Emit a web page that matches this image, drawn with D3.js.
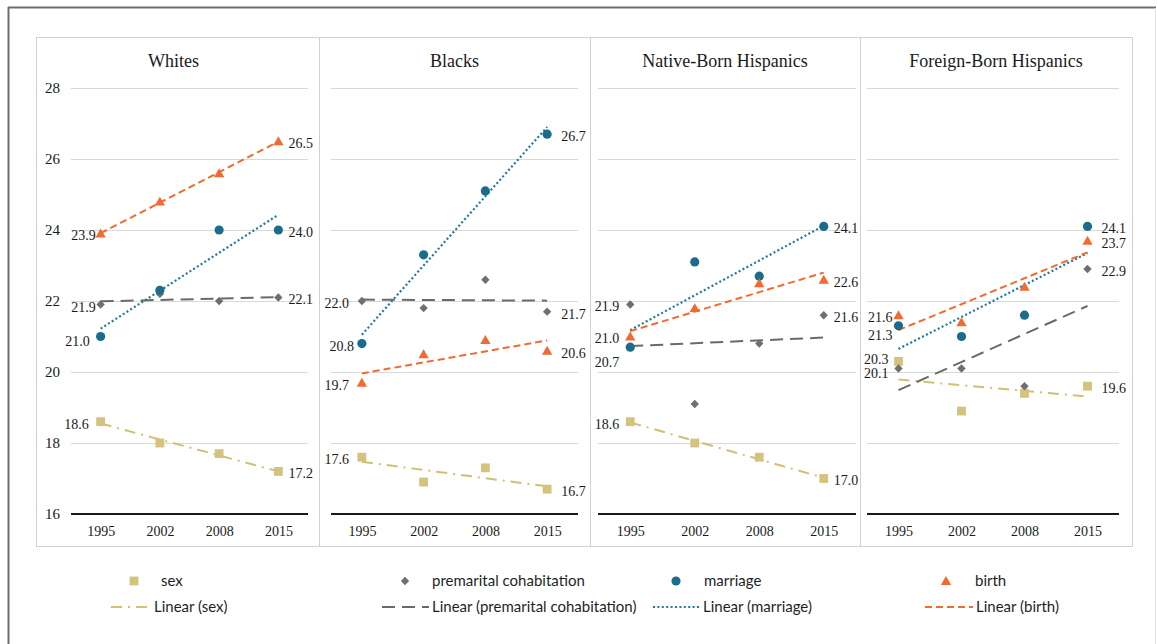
<!DOCTYPE html>
<html>
<head>
<meta charset="utf-8">
<script src="https://cdn.jsdelivr.net/npm/d3@7/dist/d3.min.js"></script>
<style>
  html, body { margin: 0; padding: 0; background: #ffffff; }
  svg { display: block; }
</style>
</head>
<body>
<svg id="chart" width="1157" height="644"></svg>
<script>
// Median age at each life-course event, by group and survey year
const groups = ["Whites", "Blacks", "Native-Born Hispanics", "Foreign-Born Hispanics"];
const years = ["1995", "2002", "2008", "2015"];
const yTicks = [16, 18, 20, 22, 24, 26, 28];

const sexAge      = [[18.6, 18.0, 17.7, 17.2], [17.6, 16.9, 17.3, 16.7], [18.6, 18.0, 17.6, 17.0], [20.3, 18.9, 19.4, 19.6]];
const cohabAge    = [[21.9, 22.2, 22.0, 22.1], [22.0, 21.8, 22.6, 21.7], [21.9, 19.1, 20.8, 21.6], [20.1, 20.1, 19.6, 22.9]];
const marriageAge = [[21.0, 22.3, 24.0, 24.0], [20.8, 23.3, 25.1, 26.7], [20.7, 23.1, 22.7, 24.1], [21.3, 21.0, 21.6, 24.1]];
const birthAge    = [[23.9, 24.8, 25.6, 26.5], [19.7, 20.5, 20.9, 20.6], [21.0, 21.8, 22.5, 22.6], [21.6, 21.4, 22.4, 23.7]];

// Series styling (marker shape, colour, trendline dash)
const series = [
  { key: "sex", name: "sex", values: sexAge, color: "#d3c37c", lineColor: "#d0c070", shape: "square", dash: "11,6,2,6" },
  { key: "cohab", name: "premarital cohabitation", values: cohabAge, color: "#6f6f6f", lineColor: "#6a6a6a", shape: "diamond", dash: "13,7" },
  { key: "marriage", name: "marriage", values: marriageAge, color: "#1b6b8c", lineColor: "#2277a0", shape: "circle", dash: "2,2.4" },
  { key: "birth", name: "birth", values: birthAge, color: "#f26a2e", lineColor: "#f26a2e", shape: "triangle", dash: "7,4" }
];

const SERIF = '"Liberation Serif", "Times New Roman", Times, "DejaVu Serif", serif';
const SANS = 'Lato, "Open Sans", "Liberation Sans", sans-serif';

// Layout
const panelBox = { top: 37, bottom: 546, edges: [36, 319, 590, 860, 1132] };
const plotRanges = [[71, 308], [331, 578], [598, 856], [867, 1119]];
const leftGap = [8, 13, 11, 6];
const rightGap = [10, 14, 10, 14];
// label nudges: "panel-series-side" -> [dx, dy]
const labelNudge = {
  "0-sex-L": [-4, 0], "0-marriage-L": [-3, 3], "0-birth-L": [3, 0], "0-cohab-L": [3, 1],
  "1-marriage-L": [5, 0],
  "2-marriage-L": [0, 13],
  "3-marriage-L": [0, 7], "3-sex-L": [-4, -4], "3-cohab-L": [-4, 3]
};

const svg = d3.select("#chart");
const y = d3.scaleLinear().domain([16, 28]).range([514, 88]);

// Outer frame
svg.append("line").attr("x1", 8).attr("x2", 1156).attr("y1", 7.5).attr("y2", 7.5)
  .attr("stroke", "#6e6e6e").attr("stroke-width", 2);
svg.append("line").attr("x1", 8.5).attr("x2", 8.5).attr("y1", 7).attr("y2", 644)
  .attr("stroke", "#6e6e6e").attr("stroke-width", 2);
svg.append("line").attr("x1", 1155.5).attr("x2", 1155.5).attr("y1", 8).attr("y2", 644)
  .attr("stroke", "#e2e2e2").attr("stroke-width", 1);

// Panel borders
svg.append("rect")
  .attr("x", panelBox.edges[0] + 0.5).attr("y", panelBox.top + 0.5)
  .attr("width", panelBox.edges[4] - panelBox.edges[0]).attr("height", panelBox.bottom - panelBox.top)
  .attr("fill", "none").attr("stroke", "#d0d0d0");
panelBox.edges.slice(1, 4).forEach(e => {
  svg.append("line").attr("x1", e + 0.5).attr("x2", e + 0.5)
    .attr("y1", panelBox.top).attr("y2", panelBox.bottom).attr("stroke", "#d0d0d0");
});

function markerPath(shape) {
  if (shape === "diamond") {
    const r = 4.2;
    return `M0,${-r}L${r},0L0,${r}L${-r},0Z`;
  }
  const sym = { square: d3.symbolSquare, circle: d3.symbolCircle, triangle: d3.symbolTriangle }[shape];
  const size = { square: 78, circle: 66, triangle: 46 }[shape];
  return d3.symbol().type(sym).size(size)();
}

function trend(values) {
  const n = values.length;
  const xs = d3.range(1, n + 1);
  const mx = d3.mean(xs), my = d3.mean(values);
  const slope = d3.sum(xs, (xv, i) => (xv - mx) * (values[i] - my)) / d3.sum(xs, xv => (xv - mx) ** 2);
  return xs.map(xv => my + slope * (xv - mx));
}

groups.forEach((gname, gi) => {
  const [x0, x1] = plotRanges[gi];
  const x = d3.scalePoint().domain(years).range([x0, x1]).padding(0.5);
  const g = svg.append("g");

  // Gridlines
  const grid = g.append("g").attr("transform", `translate(${x0},0)`)
    .call(d3.axisLeft(y).tickValues(yTicks.slice(1)).tickSize(-(x1 - x0)).tickFormat(""));
  grid.select(".domain").remove();
  grid.selectAll(".tick line").attr("stroke", "#d9d9d9").attr("stroke-width", 1);

  // Category axis
  const xa = g.append("g").attr("transform", `translate(0,${y(16)})`)
    .call(d3.axisBottom(x).tickSize(0).tickPadding(12));
  xa.attr("font-family", null).attr("font-size", null);
  xa.select(".domain").attr("stroke", "#1a1a1a").attr("stroke-width", 2)
    .attr("d", `M${x0},0H${x1}`);
  xa.selectAll("text").style("font-family", SERIF).style("font-size", "14px").attr("fill", "#1a1a1a");

  // Value axis labels on the first panel only
  if (gi === 0) {
    const ya = g.append("g").attr("transform", `translate(${x0},0)`)
      .call(d3.axisLeft(y).tickValues(yTicks).tickSize(0).tickPadding(11).tickFormat(d3.format("d")));
    ya.attr("font-family", null).attr("font-size", null);
    ya.select(".domain").remove();
    ya.selectAll("text").style("font-family", SERIF).style("font-size", "15px").attr("fill", "#1a1a1a");
  }

  // Title
  g.append("text")
    .attr("x", (panelBox.edges[gi] + panelBox.edges[gi + 1]) / 2 - (gi === 0 ? 4 : 0))
    .attr("y", 67).attr("text-anchor", "middle")
    .style("font-family", SERIF).style("font-size", "18px").attr("fill", "#1a1a1a")
    .text(gname);

  // Trendlines
  series.forEach(s => {
    const vals = s.values[gi];
    const t = trend(vals);
    g.append("line")
      .attr("x1", x(years[0])).attr("y1", y(t[0]))
      .attr("x2", x(years[years.length - 1])).attr("y2", y(t[t.length - 1]))
      .attr("stroke", s.lineColor).attr("stroke-width", s.key === "marriage" ? 2.2 : 2)
      .attr("stroke-dasharray", s.dash);
  });

  // Markers
  series.forEach(s => {
    g.selectAll(null).data(s.values[gi]).join("path")
      .attr("d", markerPath(s.shape))
      .attr("transform", (d, i) => `translate(${x(years[i])},${y(d) + (s.shape === "triangle" ? 1 : 0)})`)
      .attr("fill", s.color);
  });

  // Value labels at the first and last year
  series.forEach(s => {
    const vals = s.values[gi];
    [["L", 0], ["R", vals.length - 1]].forEach(([side, i]) => {
      const nudge = labelNudge[`${gi}-${s.key}-${side}`] || [0, 0];
      const px = x(years[i]) + (side === "L" ? -leftGap[gi] : rightGap[gi]) + nudge[0];
      g.append("text")
        .attr("x", px).attr("y", y(vals[i]) + 2 + nudge[1])
        .attr("dy", "0.35em")
        .attr("text-anchor", side === "L" ? "end" : "start")
        .style("font-family", SERIF).style("font-size", "14px").attr("fill", "#1a1a1a")
        .text(vals[i].toFixed(1));
    });
  });
});

// Legend
const legend = svg.append("g");
const legendX = [134, 405, 676, 946];
const legendTextX = [161, 432, 704, 975];
const lineSpan = [[111, 151], [382, 429], [653, 700], [925, 973]];
series.forEach((s, i) => {
  legend.append("path").attr("d", markerPath(s.shape))
    .attr("transform", `translate(${legendX[i]},${581 + (s.shape === "triangle" ? 1 : 0)})`)
    .attr("fill", s.color);
  legend.append("text").attr("x", legendTextX[i]).attr("y", 581).attr("dy", "0.35em")
    .style("font-family", SANS).style("font-size", "15px").attr("fill", "#1f1f1f")
    .text(s.name);
  legend.append("line").attr("x1", lineSpan[i][0]).attr("x2", lineSpan[i][1])
    .attr("y1", 607).attr("y2", 607)
    .attr("stroke", s.lineColor).attr("stroke-width", 2).attr("stroke-dasharray", s.dash);
  legend.append("text").attr("x", lineSpan[i][1] + 3).attr("y", 607).attr("dy", "0.35em")
    .style("font-family", SANS).style("font-size", "15px").attr("fill", "#1f1f1f")
    .text(`Linear (${s.name})`);
});
</script>
</body>
</html>
